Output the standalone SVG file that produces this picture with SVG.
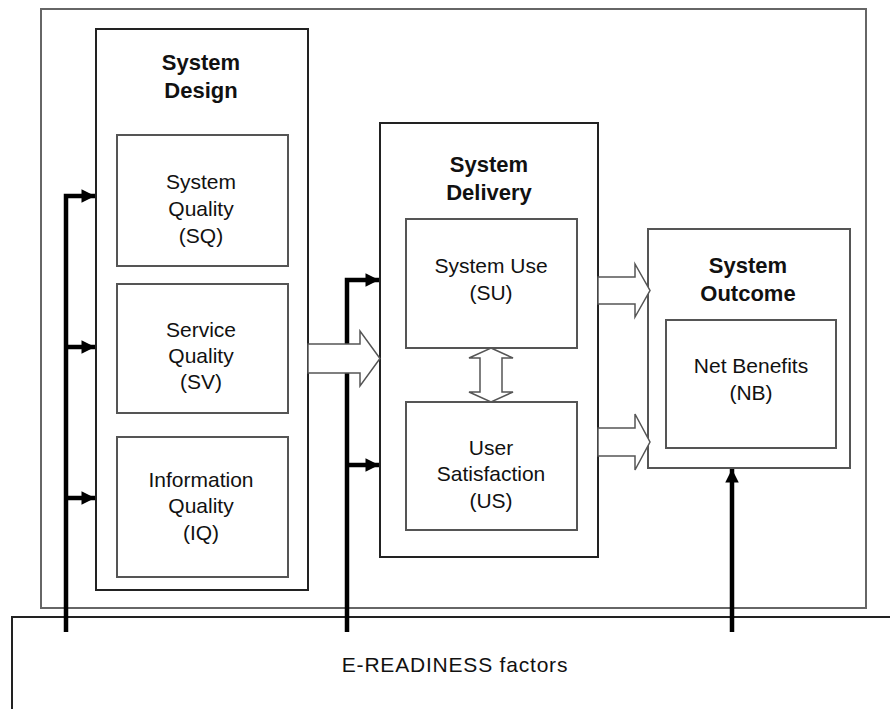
<svg xmlns="http://www.w3.org/2000/svg" width="890" height="709" viewBox="0 0 890 709">
  <style>
    .frame { fill: none; stroke: #666; stroke-width: 2; }
    .stage { fill: #fff; stroke: #222; stroke-width: 2; }
    .item { fill: #fff; stroke: #555; stroke-width: 2; }
    .hollow { fill: #fff; stroke: #555; stroke-width: 1.5; stroke-linejoin: miter; }
    .bus { fill: none; stroke: #000; stroke-width: 4.5; }
    text { font-family: "Liberation Sans", Arial, sans-serif; font-size: 21px; fill: #111; text-anchor: middle; }
    .title { font-weight: bold; font-size: 22px; }
    .base { letter-spacing: 0.8px; }
  </style>
  <defs>
    <marker id="head" viewBox="0 0 10 10" refX="10" refY="5" markerWidth="4" markerHeight="3" markerUnits="strokeWidth" orient="auto">
      <path d="M0,0 L10,5 L0,10 Z" fill="#000"/>
    </marker>
  </defs>

  <rect width="890" height="709" fill="#fff"/>

  <!-- outer boundary of the model -->
  <rect id="model-frame" class="frame" x="41" y="9" width="825" height="599"/>

  <!-- e-readiness base band -->
  <g id="e-readiness">
    <path d="M12,709 L12,617 L890,617" fill="none" stroke="#222" stroke-width="2"/>
    <text class="base" x="455" y="672">E-READINESS factors</text>
  </g>

  <!-- system design stage -->
  <g id="system-design">
    <rect class="stage" x="96" y="29" width="212" height="561"/>
    <text class="title" x="201" y="70">System</text>
    <text class="title" x="201" y="98">Design</text>
  </g>
  <g id="system-quality">
    <rect class="item" x="117" y="135" width="171" height="131"/>
    <text x="201" y="189">System</text>
    <text x="201" y="216">Quality</text>
    <text x="201" y="243">(SQ)</text>
  </g>
  <g id="service-quality">
    <rect class="item" x="117" y="284" width="171" height="129"/>
    <text x="201" y="337">Service</text>
    <text x="201" y="363">Quality</text>
    <text x="201" y="389">(SV)</text>
  </g>
  <g id="information-quality">
    <rect class="item" x="117" y="437" width="171" height="140"/>
    <text x="201" y="487">Information</text>
    <text x="201" y="513">Quality</text>
    <text x="201" y="540">(IQ)</text>
  </g>

  <!-- system delivery stage -->
  <g id="system-delivery">
    <rect class="stage" x="380" y="123" width="218" height="434"/>
    <text class="title" x="489" y="172">System</text>
    <text class="title" x="489" y="200">Delivery</text>
  </g>
  <g id="system-use">
    <rect class="item" x="406" y="219" width="171" height="129"/>
    <text x="491" y="273">System Use</text>
    <text x="491" y="300">(SU)</text>
  </g>
  <g id="user-satisfaction">
    <rect class="item" x="406" y="402" width="171" height="128"/>
    <text x="491" y="455">User</text>
    <text x="491" y="481">Satisfaction</text>
    <text x="491" y="508">(US)</text>
  </g>

  <!-- system outcome stage -->
  <g id="system-outcome">
    <rect class="item" x="648" y="229" width="202" height="239"/>
    <text class="title" x="748" y="273">System</text>
    <text class="title" x="748" y="301">Outcome</text>
  </g>
  <g id="net-benefits">
    <rect class="item" x="666" y="320" width="170" height="128"/>
    <text x="751" y="373">Net Benefits</text>
    <text x="751" y="400">(NB)</text>
  </g>

  <!-- connectors -->
  <g id="connectors">
    <!-- e-readiness feeds into system design -->
    <path class="bus" d="M66,632 L66,196 L95,196" marker-end="url(#head)"/>
    <path class="bus" d="M66,347 L95,347" marker-end="url(#head)"/>
    <path class="bus" d="M66,498 L95,498" marker-end="url(#head)"/>
    <!-- e-readiness feeds into system delivery -->
    <path class="bus" d="M347,632 L347,280 L379,280" marker-end="url(#head)"/>
    <path class="bus" d="M347,465 L379,465" marker-end="url(#head)"/>
    <!-- e-readiness feeds into system outcome -->
    <path class="bus" d="M732,632 L732,469" marker-end="url(#head)"/>

    <!-- design to delivery -->
    <path class="hollow" d="M308,344 L360,344 L360,331 L380,358.5 L360,386 L360,373 L308,373 Z"/>
    <!-- use and satisfaction relate both ways -->
    <path class="hollow" d="M491,348 L513,358 L502,358 L502,392 L513,392 L491,402 L469,392 L480,392 L480,358 L469,358 Z"/>
    <!-- delivery to outcome -->
    <path class="hollow" d="M598,277 L635,277 L635,264 L650,290.5 L635,317 L635,304 L598,304 Z"/>
    <path class="hollow" d="M598,428 L635,428 L635,414 L650,442 L635,470 L635,456 L598,456 Z"/>
  </g>
</svg>
